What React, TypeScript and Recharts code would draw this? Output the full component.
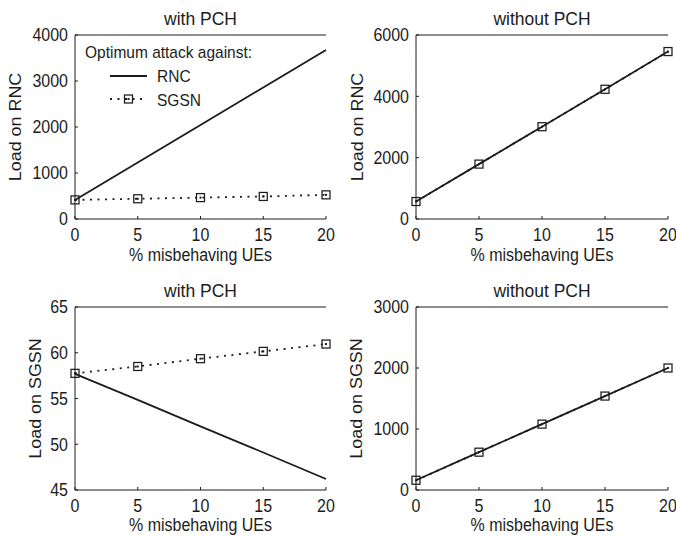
import React from "react";
import { LineChart, Line, XAxis, YAxis, Label, Customized } from "recharts";

// ---------- data ----------
const xValues = [0, 5, 10, 15, 20];
const xTicks = [0, 5, 10, 15, 20];

// top-left: with PCH, load on RNC
const withPchRnc_LoadRnc = [415, 1230, 2045, 2860, 3675];
const withPchSgsn_LoadRnc = [415, 440, 465, 490, 525];
const yTicksLoadRncWith = [0, 1000, 2000, 3000, 4000];

// top-right: without PCH, load on RNC
const withoutPchRnc_LoadRnc = [570, 1790, 3010, 4230, 5460];
const withoutPchSgsn_LoadRnc = [570, 1790, 3010, 4230, 5460];
const yTicksLoadRncWithout = [0, 2000, 4000, 6000];

// bottom-left: with PCH, load on SGSN
const withPchRnc_LoadSgsn = [57.7, 54.85, 51.95, 49.1, 46.2];
const withPchSgsn_LoadSgsn = [57.75, 58.5, 59.35, 60.15, 60.95];
const yTicksLoadSgsnWith = [45, 50, 55, 60, 65];

// bottom-right: without PCH, load on SGSN
const withoutPchRnc_LoadSgsn = [160, 620, 1080, 1540, 2000];
const withoutPchSgsn_LoadSgsn = [160, 620, 1080, 1540, 2000];
const yTicksLoadSgsnWithout = [0, 1000, 2000, 3000];

const legendTitle = "Optimum attack against:";
const seriesNames = ["RNC", "SGSN"];
const xLabel = "% misbehaving UEs";

// ---------- styles ----------
const INK = "#1c1c1c";
const FONT = "'Liberation Sans', Arial, Helvetica, sans-serif";
const FS = 16;
const SY = 1.12; // vertical stretch of the reference's lettering

const buildRows = (rnc: number[], sgsn: number[]) =>
  xValues.map((x, i) => ({ x, rnc: rnc[i], sgsn: sgsn[i] }));

const SquareDot = (props: any) => {
  const { cx, cy, index } = props;
  if (cx == null || cy == null) return null;
  return (
    <g key={`sq-${index}`}>
      <rect x={cx - 4} y={cy - 4} width={8} height={8} fill="none" stroke={INK} strokeWidth={1.25} />
      <rect x={cx - 1} y={cy - 1} width={2} height={2} fill={INK} />
    </g>
  );
};

const XTick = (props: any) => {
  const { x, y, payload } = props;
  return (
    <text
      transform={`translate(${x} ${y}) scale(1 ${SY})`}
      textAnchor="middle"
      dy="0.71em"
      fontSize={FS}
      fontFamily={FONT}
      fill={INK}
    >
      {payload.value}
    </text>
  );
};

const YTick = (props: any) => {
  const { x, y, payload } = props;
  return (
    <text
      transform={`translate(${x} ${y}) scale(1 ${SY})`}
      textAnchor="end"
      dy="0.355em"
      fontSize={FS}
      fontFamily={FONT}
      fill={INK}
    >
      {payload.value}
    </text>
  );
};

const makeTitle = (text: string, baseline: number) => (props: any) => {
  const vb = props.viewBox || {};
  const cx = vb.x + vb.width / 2;
  return (
    <text
      transform={`translate(${cx} ${vb.y + baseline}) scale(1 1.05)`}
      textAnchor="middle"
      fontSize={17.5}
      fontFamily={FONT}
      fill={INK}
    >
      {text}
    </text>
  );
};

const makeXLabel = (text: string, below: number) => (props: any) => {
  const vb = props.viewBox || {};
  const cx = vb.x + vb.width / 2;
  return (
    <text
      transform={`translate(${cx} ${vb.y + below}) scale(1 ${SY})`}
      textAnchor="middle"
      fontSize={FS}
      fontFamily={FONT}
      fill={INK}
    >
      {text}
    </text>
  );
};

const makeYLabel = (text: string, offset: number) => (props: any) => {
  const vb = props.viewBox || {};
  const cx = vb.x + offset;
  const cy = vb.y + vb.height / 2;
  return (
    <text
      transform={`translate(${cx} ${cy}) rotate(-90) scale(${SY} 1)`}
      dy="0.355em"
      textAnchor="middle"
      fontSize={FS}
      fontFamily={FONT}
      fill={INK}
    >
      {text}
    </text>
  );
};

const LegendText = ({ x, y, children }: any) => (
  <text transform={`translate(${x} ${y}) scale(1 1.08)`} fontSize={15.5} fontFamily={FONT} fill={INK}>
    {children}
  </text>
);

const LegendBox = () => (
  <g>
    <LegendText x={85} y={58}>{legendTitle}</LegendText>
    <line x1={110} y1={76} x2={147} y2={76} stroke={INK} strokeWidth={1.8} />
    <LegendText x={157} y={82}>{seriesNames[0]}</LegendText>
    <line x1={110} y1={99} x2={147} y2={99} stroke={INK} strokeWidth={1.8} strokeDasharray="2 5.5" />
    <rect x={124.5} y={95} width={8} height={8} fill="none" stroke={INK} strokeWidth={1.25} />
    <rect x={127.5} y={98} width={2} height={2} fill={INK} />
    <LegendText x={157} y={105.5}>{seriesNames[1]}</LegendText>
  </g>
);

type PanelProps = {
  left: number;
  top: number;
  width: number;
  height: number;
  title: string;
  yLabel: string;
  rnc: number[];
  sgsn: number[];
  yDomain: [number, number];
  yTicks: number[];
  yAxisW: number;
  rightMargin: number;
  topAxisH: number;
  bottomAxisH: number;
  titleBaseline: number;
  xLabelBelow: number;
  yLabelOffset: number;
  legend?: boolean;
};

const Panel = (p: PanelProps) => {
  const data = buildRows(p.rnc, p.sgsn);
  const axisLine = { stroke: INK, strokeWidth: 1 };
  const tickLine = { stroke: INK, strokeWidth: 1 };
  return (
    <div style={{ position: "absolute", left: p.left, top: p.top, width: p.width, height: p.height }}>
      <LineChart
        width={p.width}
        height={p.height}
        data={data}
        margin={{ top: 0, right: p.rightMargin, bottom: 0, left: 0 }}
      >
        <XAxis
          xAxisId="b"
          dataKey="x"
          type="number"
          domain={[0, 20]}
          ticks={xTicks}
          interval={0}
          height={p.bottomAxisH}
          tickSize={-3}
          tickMargin={12}
          tick={<XTick />}
          axisLine={axisLine}
          tickLine={tickLine}
        >
          <Label content={makeXLabel(xLabel, p.xLabelBelow)} />
        </XAxis>
        <XAxis
          xAxisId="t"
          orientation="top"
          dataKey="x"
          type="number"
          domain={[0, 20]}
          ticks={xTicks}
          interval={0}
          height={p.topAxisH}
          tickSize={-3}
          tick={false}
          axisLine={axisLine}
          tickLine={tickLine}
        >
          <Label content={makeTitle(p.title, p.titleBaseline)} />
        </XAxis>
        <YAxis
          yAxisId="l"
          type="number"
          domain={p.yDomain}
          ticks={p.yTicks}
          interval={0}
          width={p.yAxisW}
          tickSize={-3}
          tickMargin={10}
          tick={<YTick />}
          axisLine={axisLine}
          tickLine={tickLine}
        >
          <Label content={makeYLabel(p.yLabel, p.yLabelOffset)} />
        </YAxis>
        <YAxis
          yAxisId="r"
          orientation="right"
          type="number"
          domain={p.yDomain}
          ticks={p.yTicks}
          interval={0}
          width={0}
          tickSize={-3}
          tick={false}
          axisLine={axisLine}
          tickLine={tickLine}
        />
        <Line
          xAxisId="b"
          yAxisId="l"
          type="linear"
          dataKey="rnc"
          name={seriesNames[0]}
          stroke={INK}
          strokeWidth={1.8}
          dot={false}
          activeDot={false}
          isAnimationActive={false}
        />
        <Line
          xAxisId="b"
          yAxisId="l"
          type="linear"
          dataKey="sgsn"
          name={seriesNames[1]}
          stroke={INK}
          strokeWidth={1.8}
          strokeDasharray="2 5.5"
          dot={<SquareDot />}
          activeDot={false}
          isAnimationActive={false}
        />
        {p.legend ? <Customized component={LegendBox} /> : null}
      </LineChart>
    </div>
  );
};

export default function App() {
  return (
    <div
      style={{
        position: "absolute",
        left: 0,
        top: 0,
        width: 676,
        height: 537,
        background: "#ffffff",
        overflow: "hidden",
      }}
    >
      <Panel
        left={0}
        top={0}
        width={338}
        height={270}
        title="with PCH"
        yLabel="Load on RNC"
        rnc={withPchRnc_LoadRnc}
        sgsn={withPchSgsn_LoadRnc}
        yDomain={[0, 4000]}
        yTicks={yTicksLoadRncWith}
        yAxisW={75}
        rightMargin={12}
        topAxisH={35}
        bottomAxisH={51}
        titleBaseline={25}
        xLabelBelow={42}
        yLabelOffset={15}
        legend
      />
      <Panel
        left={338}
        top={0}
        width={338}
        height={270}
        title="without PCH"
        yLabel="Load on RNC"
        rnc={withoutPchRnc_LoadRnc}
        sgsn={withoutPchSgsn_LoadRnc}
        yDomain={[0, 6000]}
        yTicks={yTicksLoadRncWithout}
        yAxisW={78}
        rightMargin={8}
        topAxisH={35}
        bottomAxisH={51}
        titleBaseline={25}
        xLabelBelow={42}
        yLabelOffset={19}
      />
      <Panel
        left={0}
        top={270}
        width={338}
        height={267}
        title="with PCH"
        yLabel="Load on SGSN"
        rnc={withPchRnc_LoadSgsn}
        sgsn={withPchSgsn_LoadSgsn}
        yDomain={[45, 65]}
        yTicks={yTicksLoadSgsnWith}
        yAxisW={75}
        rightMargin={12}
        topAxisH={37}
        bottomAxisH={47}
        titleBaseline={27}
        xLabelBelow={41}
        yLabelOffset={35}
      />
      <Panel
        left={338}
        top={270}
        width={338}
        height={267}
        title="without PCH"
        yLabel="Load on SGSN"
        rnc={withoutPchRnc_LoadSgsn}
        sgsn={withoutPchSgsn_LoadSgsn}
        yDomain={[0, 3000]}
        yTicks={yTicksLoadSgsnWithout}
        yAxisW={78}
        rightMargin={8}
        topAxisH={37}
        bottomAxisH={47}
        titleBaseline={27}
        xLabelBelow={41}
        yLabelOffset={18}
      />
    </div>
  );
}
